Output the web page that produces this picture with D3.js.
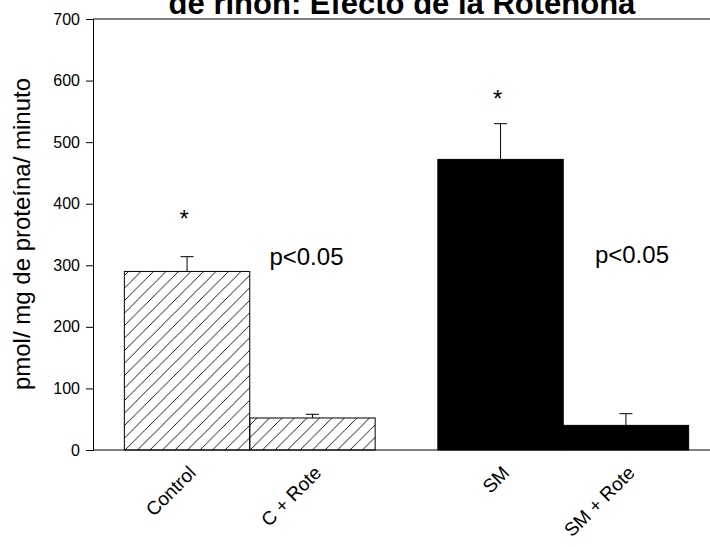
<!DOCTYPE html>
<html>
<head>
<meta charset="utf-8">
<script src="https://cdn.jsdelivr.net/npm/d3@7"></script>
<style>
  body { margin: 0; background: #fff; }
  svg { display: block; font-family: Arial, "Liberation Sans", sans-serif; }
</style>
</head>
<body>
<div id="chart-area"></div>
<script>
// data
var categories = ["Control", "C + Rote", "SM", "SM + Rote"];
var groups = [0, 0, 1, 1];
var values = [290, 52, 472, 40];
var errors = [24, 6, 58, 19];
var patterns = ["hatch", "hatch", "solid", "solid"];
var starValues = [362, null, 557, null];
var pLabels = ["p<0.05", "p<0.05"];
var pValues = [300, 303];
var pBars = [1, 3];
var yTicks = [0, 100, 200, 300, 400, 500, 600, 700];

var width = 710;
var height = 547;
var plot = {left: 93, top: 19, bottom: 450, right: 720};

var svg = d3.select('#chart-area')
.append('svg')
.attr('width', width)
.attr('height', height);

var defs = svg.append("defs");
var hatch = defs.append("pattern")
.attr("id", "hatch")
.attr("patternUnits", "userSpaceOnUse")
.attr("width", 12.5)
.attr("height", 12.5);
hatch.append("path")
.attr("d", "M-1,1 L1,-1 M0,12.5 L12.5,0 M11.5,13.5 L13.5,11.5")
.attr("stroke", "#000")
.attr("stroke-width", 0.9);

var yScale = d3.scaleLinear().domain([0, 700]).range([plot.bottom, plot.top]);
// bar widths as units, half a bar between the two groups
var xScale = d3.scaleLinear().domain([0, 5]).range([plot.left, plot.right]);

var barStart = (d, i) => 0.25 + groups[i] * 0.5 + i;
var barCenter = (i) => xScale(barStart(null, i) + 0.5);

// bars
svg.selectAll("rect.bar")
.data(values)
.enter().append("rect")
.attr("class", "bar")
.attr("x", (d, i) => xScale(barStart(d, i)))
.attr("width", (d, i) => xScale(barStart(d, i) + 1) - xScale(barStart(d, i)))
.attr("y", (d) => yScale(d))
.attr("height", (d) => yScale(0) - yScale(d))
.attr("fill", (d, i) => patterns[i] == "hatch" ? "url(#hatch)" : "#000")
.attr("stroke", "#000")
.attr("stroke-width", 1);

// error bars, upper side only
var err = svg.selectAll("g.err")
.data(values)
.enter().append("g")
.attr("class", "err");
err.append("line")
.attr("x1", (d, i) => barCenter(i))
.attr("x2", (d, i) => barCenter(i))
.attr("y1", (d) => yScale(d))
.attr("y2", (d, i) => yScale(d + errors[i]))
.attr("stroke", "#000");
err.append("line")
.attr("x1", (d, i) => barCenter(i) - 6.5)
.attr("x2", (d, i) => barCenter(i) + 6.5)
.attr("y1", (d, i) => yScale(d + errors[i]))
.attr("y2", (d, i) => yScale(d + errors[i]))
.attr("stroke", "#000");

// frame lines
svg.append("line")
.attr("x1", plot.left).attr("x2", plot.right)
.attr("y1", plot.top).attr("y2", plot.top)
.attr("stroke", "#000");
svg.append("line")
.attr("x1", plot.left).attr("x2", plot.right)
.attr("y1", plot.bottom).attr("y2", plot.bottom)
.attr("stroke", "#000");

var yAxis = d3.axisLeft(yScale).tickValues(yTicks).tickSize(7).tickPadding(6);
var yAxisG = svg.append("g")
.attr("transform", "translate(" + plot.left + ",0)")
.call(yAxis);
yAxisG.select(".domain").attr("stroke", "#000");
yAxisG.selectAll("text").attr("font-size", "16px").attr("font-family", "Arial, 'Liberation Sans', sans-serif").attr("fill", "#000");

// category labels
svg.selectAll("text.cat")
.data(categories)
.enter().append("text")
.attr("class", "cat")
.attr("text-anchor", "end")
.attr("font-size", "19px")
.attr("transform", (d, i) => "translate(" + (barCenter(i) + 10) + "," + 474 + ") rotate(-45)")
.text((d) => d);

// asterisks
svg.selectAll("text.star")
.data(starValues.map((v, i) => ({v: v, i: i})).filter((d) => d.v != null))
.enter().append("text")
.attr("class", "star")
.attr("text-anchor", "middle")
.attr("font-size", "24px")
.attr("x", (d) => barCenter(d.i) - 3)
.attr("y", (d) => yScale(d.v))
.text("*");

// significance labels
svg.selectAll("text.pval")
.data(pLabels)
.enter().append("text")
.attr("class", "pval")
.attr("text-anchor", "middle")
.attr("font-size", "24px")
.attr("x", (d, i) => barCenter(pBars[i]) + (i == 0 ? -6 : 6))
.attr("y", (d, i) => yScale(pValues[i]))
.text((d) => d);

svg.append("text")
.attr("x", -234)
.attr("y", 30)
.attr("transform", "rotate(-90)")
.attr("text-anchor", "middle")
.attr("font-size", "24px")
.text("pmol/ mg de proteína/ minuto");

svg.append("text")
.attr("x", 402)
.attr("y", 14)
.attr("text-anchor", "middle")
.attr("font-size", "31px")
.attr("font-weight", "bold")
.text("de riñón: Efecto de la Rotenona");
</script>
</body>
</html>
